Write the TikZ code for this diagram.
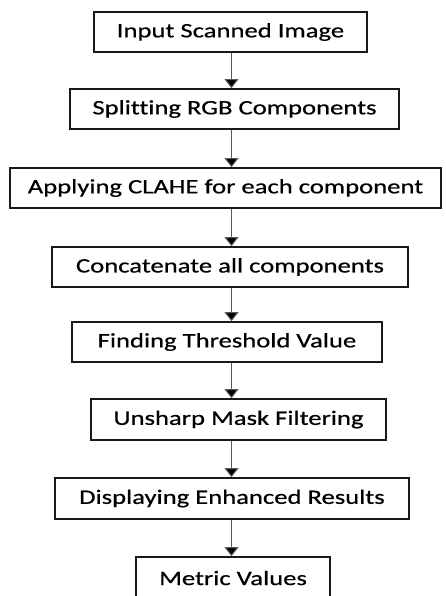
\documentclass[tikz,border=0pt]{standalone}
\usepackage{fontspec}
\setmainfont{Carlito}[FakeStretch=1.30,FakeBold=0.6,Ligatures={NoCommon}]
\usetikzlibrary{arrows.meta}
\begin{document}
\begin{tikzpicture}[x=1pt,y=-1pt,
  stepbox/.style={draw=black!90,line width=1.8pt,fill=white,inner sep=0pt,
    font=\fontsize{20.5}{24}\selectfont},
  flow/.style={draw=black!65,line width=1pt,
    -{Triangle[length=9pt,width=14pt,fill=black]}}]
\useasboundingbox (0,0) rectangle (445,596);
\clip (0,0) rectangle (445,596);
\node[stepbox,minimum width=273pt,minimum height=40pt] (n1) at (230.5,32) {Input Scanned Image};
\node[stepbox,minimum width=329pt,minimum height=40pt] (n2) at (234.5,109) {Splitting RGB Components};
\node[stepbox,minimum width=431pt,minimum height=40pt] (n3) at (225.5,188) {Applying CLAHE for each component};
\node[stepbox,minimum width=356pt,minimum height=40pt] (n4) at (230,267) {Concatenate all components};
\node[stepbox,minimum width=310pt,minimum height=40pt] (n5) at (227,342) {Finding Threshold Value};
\node[stepbox,minimum width=295pt,minimum height=41pt] (n6) at (238.5,419.5) {Unsharp Mask Filtering};
\node[stepbox,minimum width=354pt,minimum height=41pt] (n7) at (232,498.5) {Displaying Enhanced Results};
\node[stepbox,minimum width=194pt,minimum height=42pt] (n8) at (233,578) {Metric Values};
\coordinate (ax) at (231.5,0);
\foreach \a/\b in {n1/n2,n2/n3,n3/n4,n4/n5,n5/n6,n6/n7,n7/n8}
  \draw[flow] (\a.south -| ax) -- (\b.north -| ax);
\end{tikzpicture}
\end{document}
